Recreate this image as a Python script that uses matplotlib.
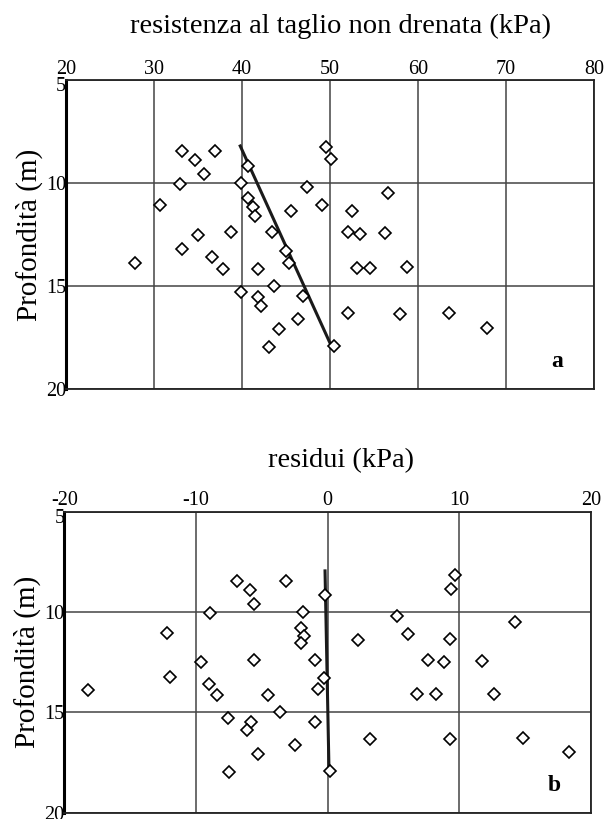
import matplotlib.pyplot as plt
from matplotlib.transforms import ScaledTranslation

plt.rcParams['font.family'] = ['Liberation Serif', 'DejaVu Serif']
plt.rcParams['axes.unicode_minus'] = False

# pannello a: resistenza al taglio non drenata (kPa) vs profondita (m)
cu = [33.2, 36.9, 34.7, 40.7, 35.7, 32.9, 39.9, 30.7, 40.7, 41.3, 41.5, 45.6,
      35.0, 38.8, 43.4, 33.2, 36.6, 45.0, 45.3, 27.8, 37.8, 41.8, 43.6, 39.9,
      41.8, 42.2, 44.2, 43.1, 49.6, 50.1, 47.4, 49.1, 56.6, 52.5, 52.0, 53.4,
      56.3, 53.1, 54.5, 58.8, 46.9, 46.4, 52.0, 58.0, 63.5, 67.8, 50.5]
depth_a = [8.44, 8.44, 8.86, 9.17, 9.57, 10.04, 10.0, 11.08, 10.74, 11.14, 11.6, 11.35,
           12.5, 12.37, 12.37, 13.2, 13.57, 13.28, 13.86, 13.86, 14.15, 14.15, 14.99, 15.28,
           15.54, 15.95, 17.06, 17.95, 8.23, 8.85, 10.17, 11.06, 10.46, 11.35, 12.37, 12.48,
           12.44, 14.1, 14.1, 14.05, 15.46, 16.59, 16.32, 16.37, 16.32, 17.01, 17.9]
trend_a_x = [39.8, 50.1]
trend_a_y = [8.2, 17.85]

# pannello b: residui (kPa)
res = [-6.9, -3.2, -5.9, -5.6, -8.9, -1.9, -12.2, -2.0, -1.8, -2.0, -9.6, -5.6,
       -1.0, -12.0, -9.0, -8.4, -4.5, -18.2, -0.7, -3.6, -7.6, -5.8, -6.1, -1.0,
       -2.5, -5.3, -7.5, 9.7, 9.35, -0.2, 5.3, 14.2, 6.1, 9.3, 2.3, 7.6,
       8.8, 11.7, -0.3, 6.8, 8.2, 12.6, 3.2, 9.3, 14.8, 18.3, 0.2]
depth_b = [8.47, 8.47, 8.9, 9.58, 10.07, 10.02, 11.05, 10.79, 11.17, 11.56, 12.5, 12.37,
           12.37, 13.24, 13.6, 14.15, 14.15, 13.9, 13.83, 15.0, 15.3, 15.48, 15.9, 15.48,
           16.64, 17.07, 17.97, 8.17, 8.85, 9.15, 10.18, 10.48, 11.09, 11.34, 11.39, 12.37,
           12.5, 12.44, 13.3, 14.08, 14.08, 14.08, 16.31, 16.31, 16.26, 17.0, 17.92]
trend_b_x = [-0.2, 0.1]
trend_b_y = [7.95, 17.87]

fig = plt.figure(figsize=(6.05, 8.19), dpi=100)


def panel(rect, xs, ys, lx, ly, xlim, xticks, title, letter, title_y):
    ax = fig.add_axes(rect)
    ax.set_xlim(*xlim)
    ax.set_ylim(20, 5)
    ax.set_xticks(xticks)
    ax.set_yticks([5, 10, 15, 20])
    ax.xaxis.tick_top()
    ax.tick_params(length=0, labelsize=14.5, pad=1)
    ax.tick_params(axis='y', pad=0)
    # the "5" sits a little below the top edge
    lab5 = ax.get_yticklabels()[0]
    lab5.set_transform(lab5.get_transform() + ScaledTranslation(0, -4 / 100, fig.dpi_scale_trans))
    ax.grid(True, color='#444444', linewidth=1.1)
    for s in ax.spines.values():
        s.set_color('#222222')
        s.set_linewidth(1.3)
    ax.spines['left'].set_linewidth(2.2)
    ax.spines['left'].set_color('black')
    ax.plot(lx, ly, color='#1a1a1a', linewidth=2.2, zorder=3)
    ax.plot(xs, ys, 'D', markersize=6.2, markerfacecolor='white',
            markeredgecolor='black', markeredgewidth=1.2, zorder=4)
    ax.text(0.93, 0.09, letter, transform=ax.transAxes, fontsize=17,
            fontweight='bold', ha='center', va='center')
    ax.set_ylabel('Profondità (m)', fontsize=21, labelpad=2)
    fig.text(0.563, title_y, title, fontsize=20.5, ha='center', va='baseline')
    return ax


panel([0.1091, 0.5247, 0.8727, 0.3776], cu, depth_a, trend_a_x, trend_a_y,
      (20, 80), range(20, 81, 10),
      'resistenza al taglio non drenata (kPa)', 'a', 0.9597)
panel([0.1063, 0.0077, 0.8706, 0.3675], res, depth_b, trend_b_x, trend_b_y,
      (-20, 20), range(-20, 21, 10), 'residui (kPa)', 'b', 0.4298)

fig.savefig('out.png', dpi=100)
